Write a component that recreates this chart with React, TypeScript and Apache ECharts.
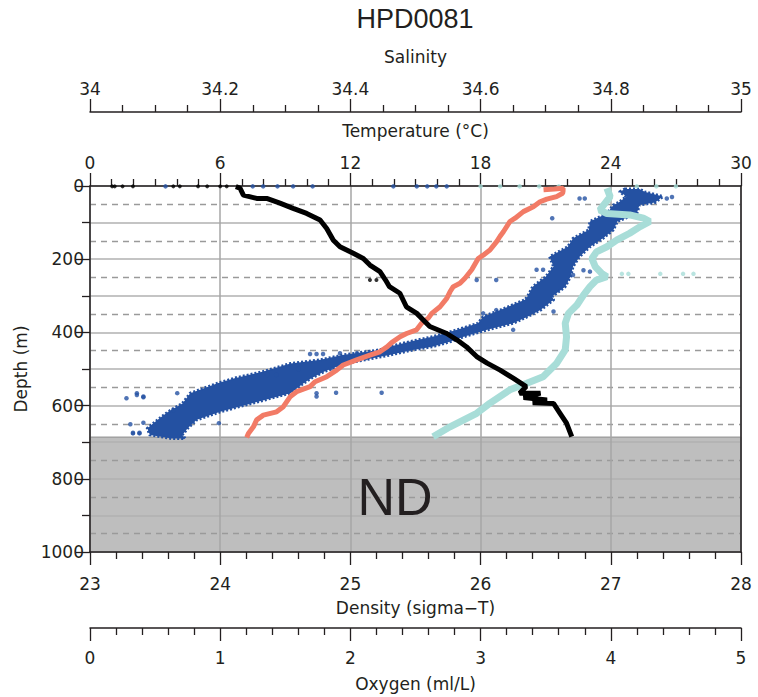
import React, { useEffect, useRef } from "react";
import * as echarts from "echarts";

// ---------- data ----------
const chartTitle = "HPD0081";

// Temperature (°C) vs depth (m)
const temperature: [number, number][] = [
  [20.9, 10], [21.4, 8], [21.8, 6], [21.8, 14], [21.78, 20], [21.5, 29], [21.05, 36], [20.74, 43],
  [20.43, 57], [19.97, 70], [19.59, 88], [19.35, 97], [19.05, 125], [18.89, 138], [18.74, 152],
  [18.43, 175], [18.12, 189], [17.89, 198], [17.59, 229], [17.28, 252], [17.05, 266], [16.74, 275],
  [16.59, 289], [16.44, 307], [16.13, 330], [15.75, 348], [15.59, 361], [15.28, 375], [15.05, 393],
  [14.59, 403], [14.29, 412], [13.9, 428], [13.7, 439], [13.36, 453], [12.9, 462], [12.29, 475],
  [11.67, 489], [11.37, 503], [10.91, 521], [10.37, 535], [10.14, 548], [9.52, 562], [9.22, 576],
  [8.91, 603], [8.6, 617], [7.99, 626], [7.68, 639], [7.53, 658], [7.3, 676], [7.22, 687],
];

// Salinity vs depth
const salinity: [number, number][] = [
  [34.794, 6], [34.799, 29], [34.783, 66], [34.794, 75], [34.829, 79], [34.85, 88], [34.86, 97],
  [34.845, 111], [34.829, 129], [34.809, 148], [34.794, 166], [34.778, 180], [34.771, 198],
  [34.776, 220], [34.786, 239], [34.794, 248], [34.778, 257], [34.768, 275], [34.758, 298],
  [34.748, 325], [34.735, 348], [34.73, 375], [34.732, 412], [34.73, 448], [34.717, 484],
  [34.696, 521], [34.671, 539], [34.645, 557], [34.614, 594], [34.594, 621], [34.553, 658],
  [34.527, 685],
];
const salinityStray: [number, number][] = [
  [34.6, 1], [34.63, 1], [34.66, 1], [34.69, 1], [34.72, 1], [34.84, 1], [34.87, 1], [34.9, 1],
  [34.817, 240], [34.827, 240], [34.876, 240], [34.911, 240], [34.927, 240],
];

// Density (sigma-T) vs depth
const density: [number, number][] = [
  [24.12, 2], [24.152, 6], [24.178, 25], [24.28, 34], [24.357, 34], [24.459, 47], [24.56, 61],
  [24.664, 75], [24.767, 93], [24.818, 116], [24.869, 148], [24.92, 166], [25.022, 184],
  [25.099, 198], [25.15, 216], [25.227, 234], [25.27, 257], [25.3, 275], [25.38, 293],
  [25.43, 330], [25.51, 348], [25.56, 366], [25.61, 384], [25.74, 403], [25.82, 421],
  [25.89, 439], [25.97, 466], [26.05, 484], [26.15, 503], [26.25, 525], [26.35, 548],
  [26.3, 566], [26.46, 566], [26.33, 578], [26.51, 585], [26.4, 592], [26.56, 594],
  [26.61, 621], [26.66, 648], [26.7, 685],
];
const densityStray: [number, number][] = [
  [23.17, 1], [23.19, 1], [23.25, 1], [23.33, 1], [23.64, 1], [23.69, 1], [23.83, 1],
  [23.9, 1], [24.0, 1], [24.05, 1], [25.15, 257], [25.2, 257],
];

// Oxygen (ml/L): edges of the dense band of samples, and stray samples
const oxygenBandLeft: [number, number][] = [
  [4.11, 8], [4.07, 16], [4.12, 29], [4.06, 45], [4.02, 52], [3.97, 75], [3.84, 97], [3.83, 120],
  [3.71, 143], [3.67, 166], [3.53, 193], [3.56, 220], [3.5, 248], [3.4, 275], [3.36, 302],
  [3.34, 311], [3.15, 339], [3.02, 357], [2.98, 375], [2.82, 393], [2.63, 412], [2.46, 425],
  [2.3, 439], [2.22, 448], [1.94, 462], [1.77, 475], [1.54, 485], [1.33, 507], [1.11, 525],
  [0.98, 539], [0.77, 566], [0.71, 594], [0.6, 617], [0.52, 639], [0.44, 662], [0.46, 680],
  [0.63, 690],
];
const oxygenBandRight: [number, number][] = [
  [4.22, 8], [4.26, 16], [4.4, 29], [4.34, 45], [4.22, 52], [4.2, 75], [4.05, 97], [4.02, 120],
  [3.94, 143], [3.84, 166], [3.76, 193], [3.71, 220], [3.69, 248], [3.65, 275], [3.55, 302],
  [3.56, 311], [3.46, 339], [3.36, 357], [3.25, 375], [3.05, 393], [2.87, 412], [2.77, 425],
  [2.63, 439], [2.48, 448], [2.3, 462], [2.11, 475], [1.96, 485], [1.8, 507], [1.7, 525],
  [1.64, 539], [1.54, 566], [1.24, 594], [1.0, 617], [0.82, 639], [0.75, 662], [0.71, 680],
  [0.73, 690],
];
const oxygenStray: [number, number][] = [
  [0.58, 1], [1.25, 1], [1.33, 1], [1.44, 1], [1.56, 1], [1.71, 1], [2.33, 1], [2.51, 1],
  [2.59, 1], [2.66, 1], [2.74, 1], [3.8, 34], [3.76, 34], [4.43, 34], [4.47, 30], [3.55, 88],
  [3.43, 229], [3.48, 229], [3.71, 243], [3.84, 234], [3.79, 230], [3.12, 257], [2.97, 257],
  [3.56, 343], [3.12, 339], [3.02, 348], [3.25, 393], [2.24, 565], [1.89, 565], [1.74, 566],
  [1.74, 575], [1.69, 459], [1.74, 459], [1.79, 459], [1.92, 457], [1.36, 516], [1.43, 516],
  [0.99, 648], [0.67, 566], [0.64, 612], [0.36, 566], [0.41, 575], [0.28, 580], [0.36, 571],
  [0.41, 577], [0.33, 676], [0.38, 676], [0.41, 647], [0.31, 651], [0.33, 674], [0.38, 674],
  [2.05, 457], [2.12, 470], [1.6, 500], [1.85, 498],
];

// No-data zone (depth, m) and label position
const ndRange: [number, number] = [686, 1000];
const ndLabel: [number, number] = [14.06, 850]; // temperature scale, depth

// ---------- styles ----------
const FONT = "'DejaVu Sans', 'Liberation Sans', Arial, sans-serif";
const TITLE_FONT = "'Liberation Sans', Arial, Helvetica, sans-serif";
const TXT = "#231f20";
const BLUE = "#2451a2";
const ORANGE = "#f27b66";
const CYAN = "#a8ddd8";

export default function App() {
  const ref = useRef<HTMLDivElement>(null);

  useEffect(() => {
    if (!ref.current) return;
    const chart = echarts.init(ref.current, undefined, { renderer: "svg" });

    const axisLine = { show: true, onZero: false, lineStyle: { color: TXT, width: 1.5 } };
    const tickStyle = { color: TXT, width: 1.3 };
    const labelStyle = { fontSize: 17, color: TXT, fontFamily: FONT };
    const nameStyle = { fontSize: 17, color: TXT, fontFamily: FONT };

    const mkX = (o: any) => ({
      type: "value",
      nameLocation: "middle",
      nameGap: 47,
      nameTextStyle: nameStyle,
      axisLine,
      axisTick: { show: true, length: 13, lineStyle: tickStyle },
      minorTick: { show: true, length: 7, lineStyle: tickStyle, splitNumber: o.minorSplit },
      splitLine: { show: false },
      ...o,
    });

    const oxyPoly = [...oxygenBandLeft, ...oxygenBandRight.slice().reverse()];

    const option: any = {
      animation: false,
      graphic: [
        {
          type: "text",
          x: 415,
          y: 19,
          style: {
            text: chartTitle,
            fontSize: 27,
            fontFamily: TITLE_FONT,
            fill: TXT,
            align: "center",
            verticalAlign: "middle",
          },
        },
      ],
      grid: { left: 90, right: 17, top: 186, bottom: 145, containLabel: false },
      xAxis: [
        mkX({
          position: "top",
          offset: 0,
          min: 0,
          max: 30,
          interval: 6,
          minorSplit: 6,
          name: "Temperature (°C)",
          axisLabel: { ...labelStyle, margin: 15 },
          splitLine: { show: true, lineStyle: { color: "#a6a6a6", width: 1.5 } },
        }),
        mkX({
          position: "top",
          offset: 74,
          min: 34,
          max: 35,
          interval: 0.2,
          minorSplit: 4,
          name: "Salinity",
          axisLabel: { ...labelStyle, margin: 15, formatter: (v: number) => String(+v.toFixed(1)) },
        }),
        mkX({
          position: "bottom",
          offset: 0,
          min: 23,
          max: 28,
          interval: 1,
          minorSplit: 5,
          name: "Density (sigma\u2212T)",
          axisLabel: { ...labelStyle, margin: 23 },
        }),
        mkX({
          position: "bottom",
          offset: 76,
          min: 0,
          max: 5,
          interval: 1,
          minorSplit: 5,
          name: "Oxygen (ml/L)",
          axisLabel: { ...labelStyle, margin: 21 },
        }),
      ],
      yAxis: [
        {
          type: "value",
          position: "left",
          inverse: true,
          min: 0,
          max: 1000,
          interval: 200,
          name: "Depth (m)",
          nameLocation: "middle",
          nameGap: 60,
          nameRotate: 90,
          nameTextStyle: nameStyle,
          axisLine,
          axisTick: { show: true, length: 14, lineStyle: tickStyle },
          minorTick: { show: true, length: 8, splitNumber: 2, lineStyle: tickStyle },
          axisLabel: { ...labelStyle, margin: 6, formatter: (v: number) => String(v) },
          splitLine: { show: true, lineStyle: { color: "#b0b0b0", width: 1.5 } },
          minorSplitLine: { show: true, lineStyle: { color: "#b0b0b0", width: 1.5 } },
        },
        {
          type: "value",
          position: "right",
          inverse: true,
          min: 0,
          max: 1000,
          interval: 100,
          axisLine,
          axisTick: { show: false },
          axisLabel: { show: false },
          splitLine: { show: false },
          minorTick: { show: false, splitNumber: 2 },
          minorSplitLine: {
            show: true,
            lineStyle: { color: "#9a9a9a", width: 1.3, type: [6, 5] },
          },
        },
      ],
      series: [
        {
          name: "ND",
          type: "custom",
          xAxisIndex: 2,
          yAxisIndex: 0,
          z: -1,
          silent: true,
          data: [[23, ndRange[0]]],
          renderItem: (_p: any, api: any) => {
            const a = api.coord([23, ndRange[0]]);
            const b = api.coord([28, ndRange[1]]);
            return {
              type: "rect",
              shape: { x: a[0], y: a[1], width: b[0] - a[0], height: b[1] - a[1] },
              style: { fill: "#bebebe", stroke: "#8c8c8c", lineWidth: 1 },
            };
          },
        },
        {
          name: "Salinity",
          type: "line",
          xAxisIndex: 1,
          yAxisIndex: 0,
          data: salinity,
          symbol: "none",
          lineStyle: { color: CYAN, width: 7 },
        },
        {
          name: "Salinity stray",
          type: "scatter",
          xAxisIndex: 1,
          yAxisIndex: 0,
          data: salinityStray,
          symbolSize: 4.5,
          itemStyle: { color: CYAN },
        },
        {
          name: "Oxygen band",
          type: "custom",
          xAxisIndex: 3,
          yAxisIndex: 0,
          data: [oxyPoly[0]],
          renderItem: (_p: any, api: any) => {
            const pts = oxyPoly.map((p) => api.coord(p));
            return {
              type: "polygon",
              shape: { points: pts },
              style: { fill: BLUE, stroke: BLUE, lineWidth: 3, lineDash: [2, 2], lineJoin: "round" },
            };
          },
        },
        {
          name: "Oxygen",
          type: "scatter",
          xAxisIndex: 3,
          yAxisIndex: 0,
          data: oxygenStray,
          symbolSize: 4.5,
          itemStyle: { color: BLUE },
        },
        {
          name: "Temperature",
          type: "line",
          xAxisIndex: 0,
          yAxisIndex: 0,
          data: temperature,
          symbol: "none",
          lineStyle: { color: ORANGE, width: 5 },
        },
        {
          name: "Density",
          type: "line",
          xAxisIndex: 2,
          yAxisIndex: 0,
          data: density,
          symbol: "none",
          lineStyle: { color: "#000", width: 5 },
        },
        {
          name: "Density stray",
          type: "scatter",
          xAxisIndex: 2,
          yAxisIndex: 0,
          data: densityStray,
          symbolSize: 4,
          itemStyle: { color: "#000" },
        },
        {
          name: "ND label",
          type: "custom",
          xAxisIndex: 0,
          yAxisIndex: 0,
          z: 5,
          silent: true,
          data: [ndLabel],
          renderItem: (_p: any, api: any) => {
            const c = api.coord(ndLabel);
            return {
              type: "text",
              x: c[0],
              y: c[1],
              style: {
                text: "ND",
                fontSize: 52,
                fontFamily: TITLE_FONT,
                fill: TXT,
                align: "center",
                verticalAlign: "middle",
              },
            };
          },
        },
      ],
    };

    chart.setOption(option);
    return () => chart.dispose();
  }, []);

  return (
    <div
      ref={ref}
      style={{ position: "absolute", left: 0, top: 0, width: 758, height: 697, background: "#fff" }}
    />
  );
}
